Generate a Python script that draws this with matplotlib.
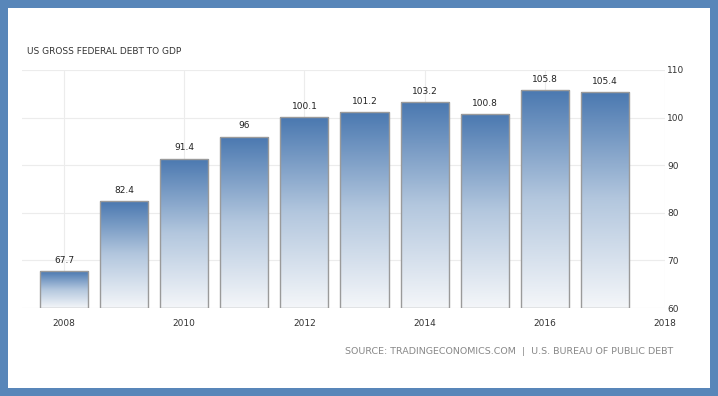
import matplotlib
matplotlib.use("Agg")
import matplotlib.pyplot as plt
import numpy as np
from matplotlib.patches import Rectangle
from matplotlib.colors import LinearSegmentedColormap

years = [2008, 2009, 2010, 2011, 2012, 2013, 2014, 2015, 2016, 2017]
values = [67.7, 82.4, 91.4, 96, 100.1, 101.2, 103.2, 100.8, 105.8, 105.4]
labels = ["67.7", "82.4", "91.4", "96", "100.1", "101.2", "103.2", "100.8", "105.8", "105.4"]
xticks = [2008, 2010, 2012, 2014, 2016, 2018]
yticks = [60, 70, 80, 90, 100, 110]

W, H = 718, 396
fig = plt.figure(figsize=(W / 100, H / 100), dpi=100)
fig.patch.set_facecolor("#5886b9")
fig.add_artist(Rectangle((8 / W, 8 / H), (710 - 8) / W, (388 - 8) / H,
                         transform=fig.transFigure, facecolor="white",
                         edgecolor="none", zorder=0))

ax = fig.add_axes([22 / W, (396 - 308) / H, (665 - 22) / W, (308 - 70) / H])
ax.set_facecolor("none")

for s in ax.spines.values():
    s.set_visible(False)

ax.set_yticks(yticks)
ax.set_xticks(xticks)
ax.yaxis.tick_right()
ax.tick_params(axis="both", length=0, labelsize=6.5, colors="#333333")
ax.tick_params(axis="y", pad=1.5)
ax.tick_params(axis="x", pad=8)
ax.grid(True, color="#ececec", linewidth=0.8)
ax.set_axisbelow(True)

cmap = LinearSegmentedColormap.from_list("g", ["#f4f6f9", "#b3c7de", "#4a78b0"])
grad = np.linspace(0, 1, 256).reshape(-1, 1)
bars = ax.bar(years, [v - 60 for v in values], bottom=60, width=0.8,
              facecolor="none", edgecolor="#9a9a9a", linewidth=1.0, zorder=3)
for b, v, t in zip(bars, values, labels):
    x0, w = b.get_x(), b.get_width()
    im = ax.imshow(grad, cmap=cmap, aspect="auto", origin="lower",
                   extent=[x0, x0 + w, 60, v], zorder=2, interpolation="bilinear")
    im.set_clip_path(b)
    ax.text(x0 + w / 2, v + 1.3, t, ha="center", va="bottom", fontsize=6.5,
            color="#222222")
ax.set_xlim(2007.3, 2018)
ax.set_ylim(60, 110)

fig.text(27 / W, 1 - 52 / H, "US GROSS FEDERAL DEBT TO GDP", fontsize=6.5,
         color="#333333", ha="left", va="center")
fig.text(673 / W, 1 - 352 / H,
         "SOURCE: TRADINGECONOMICS.COM  |  U.S. BUREAU OF PUBLIC DEBT",
         fontsize=6.8, color="#888888", ha="right", va="center")

fig.savefig("out.png", dpi=100)
